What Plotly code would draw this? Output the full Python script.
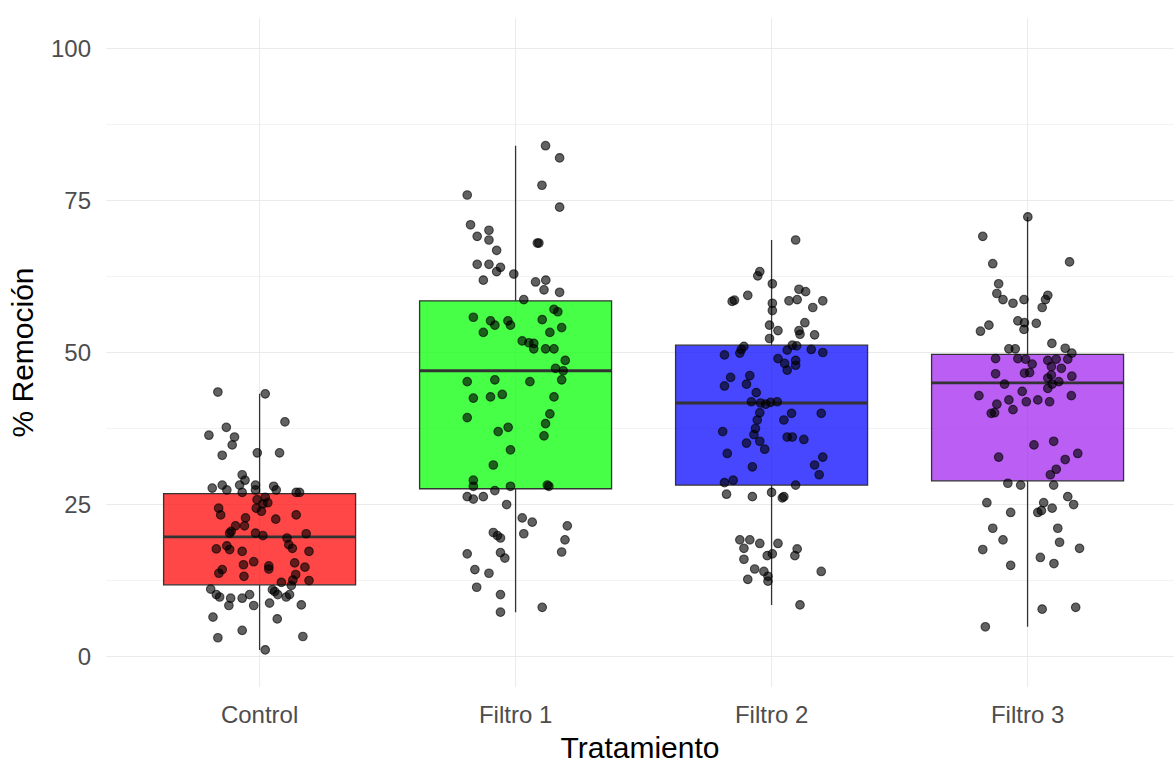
import plotly.graph_objects as go

# ---------------- data ----------------
categories = ["Control", "Filtro 1", "Filtro 2", "Filtro 3"]
box_colors = ["rgba(255,0,0,0.72)", "rgba(0,255,0,0.72)", "rgba(0,0,255,0.72)", "rgba(160,32,240,0.72)"]

q1_vals = [11.8, 27.6, 28.2, 28.9]
median_vals = [19.7, 47.0, 41.7, 45.0]
q3_vals = [26.8, 58.5, 51.2, 49.7]
lower_whisker = [1.1, 7.3, 8.5, 4.9]
upper_whisker = [43.2, 84.0, 68.5, 72.3]

control_y = [43.5, 43.2, 38.6, 37.7, 36.4, 36.1, 34.8, 33.1, 33.5, 33.5, 29.9, 29.0, 28.2, 28.2, 27.7, 27.4,
             28.2, 27.4, 28.0, 27.4, 27.0, 27.0, 27.0, 25.8, 26.2, 25.1, 24.4, 25.3, 24.4, 23.3, 22.8, 22.6,
             23.3, 23.9, 21.5, 20.6, 21.5, 20.3, 20.3, 19.9, 19.5, 20.2, 18.4, 17.8, 17.7, 17.6, 18.2, 17.3,
             17.3, 15.6, 15.1, 14.9, 15.4, 14.7, 14.3, 13.7, 14.4, 13.2, 13.5, 12.5, 12.2, 12.6, 11.1, 10.2,
             9.8, 9.6, 9.6, 10.2, 8.4, 8.4, 11.0, 10.7, 10.2, 9.8, 10.2, 11.7, 8.8, 8.5, 6.5, 6.2, 4.3, 3.1,
             3.3, 1.1]
control_jit = [-0.163, 0.022, 0.099, -0.130, -0.198, -0.098, -0.107, -0.146, -0.009, 0.078, -0.068, -0.057,
               -0.078, -0.146, -0.185, -0.128, -0.016, -0.016, 0.055, 0.065, 0.143, 0.156, -0.068, -0.010,
               0.022, 0.013, -0.013, 0.032, -0.160, -0.152, -0.055, 0.063, 0.143, 0.007, -0.094, -0.111,
               -0.059, -0.117, -0.016, 0.013, 0.107, 0.182, 0.114, 0.128, -0.169, -0.117, -0.128, -0.068,
               0.193, -0.023, -0.063, 0.036, 0.137, 0.177, -0.146, -0.159, 0.036, -0.061, 0.141, 0.193,
               0.085, 0.130, -0.191, -0.169, -0.156, -0.113, -0.068, -0.039, -0.120, -0.023, 0.050, 0.059,
               0.071, 0.104, 0.117, 0.124, 0.039, 0.163, -0.182, 0.069, -0.068, -0.163, 0.169, 0.022]

filtro1_y = [84.0, 82.0, 77.5, 75.9, 73.9, 71.0, 70.1, 69.1, 68.5, 68.0, 68.0, 66.8, 64.5, 64.5, 64.0, 63.3,
             62.9, 61.9, 61.6, 61.9, 60.3, 59.9, 58.7, 55.8, 57.1, 56.7, 55.2, 54.5, 55.2, 54.5, 55.4, 54.1,
             53.3, 53.3, 51.9, 51.6, 51.5, 50.6, 50.6, 50.6, 48.7, 47.4, 47.0, 45.5, 45.2, 45.5, 45.2, 42.5,
             42.7, 43.1, 42.7, 39.3, 39.9, 38.3, 36.3, 37.0, 37.7, 34.0, 31.5, 29.0, 28.0, 28.0, 28.2, 28.0,
             27.3, 26.3, 25.9, 26.3, 25.0, 22.8, 22.1, 21.5, 20.4, 19.9, 19.5, 20.2, 19.2, 17.2, 16.9, 17.1,
             16.2, 14.3, 13.7, 11.4, 10.2, 7.3, 8.1]
filtro1_jit = [0.117, 0.172, 0.103, -0.189, 0.172, -0.176, -0.104, -0.150, -0.104, 0.085, 0.091, -0.074,
               -0.150, -0.104, -0.059, -0.074, -0.007, -0.126, 0.078, 0.118, 0.111, 0.172, 0.032, -0.165,
               0.150, 0.165, -0.098, -0.081, -0.030, -0.020, 0.104, 0.180, -0.126, 0.134, 0.026, 0.052,
               0.071, 0.071, 0.117, 0.150, 0.194, 0.156, 0.186, 0.180, -0.189, -0.081, 0.056, -0.165,
               -0.098, -0.052, 0.150, -0.189, 0.134, 0.117, 0.111, -0.068, -0.029, -0.020, -0.087, -0.165,
               -0.165, -0.020, 0.124, 0.130, -0.081, -0.189, -0.165, -0.126, -0.035, 0.026, 0.065, 0.202,
               -0.087, -0.071, -0.059, 0.032, 0.193, 0.180, -0.189, -0.059, -0.042, -0.159, -0.104, -0.152,
               -0.059, -0.059, 0.104]

filtro2_y = [68.5, 63.3, 62.6, 61.3, 60.4, 60.0, 58.6, 58.4, 59.4, 58.5, 58.7, 58.5, 58.1, 56.9, 57.4, 54.9,
             54.5, 53.6, 53.6, 53.0, 52.9, 52.3, 51.2, 51.1, 51.0, 50.5, 49.6, 49.9, 50.4, 50.5, 50.0, 49.0,
             48.2, 48.7, 47.9, 47.1, 45.9, 46.2, 44.5, 44.8, 43.4, 41.9, 41.7, 41.5, 41.8, 41.9, 40.1, 40.0,
             40.0, 38.9, 38.9, 37.5, 37.0, 36.5, 36.1, 36.1, 35.7, 35.1, 35.4, 34.1, 33.4, 32.8, 31.5, 31.2,
             29.9, 28.6, 29.0, 28.2, 26.7, 26.3, 27.0, 26.1, 26.3, 19.2, 19.2, 17.8, 18.6, 18.6, 17.7, 16.6,
             16.9, 16.6, 16.0, 14.4, 14.0, 12.7, 13.2, 12.4, 14.0, 8.5]
filtro2_jit = [0.094, -0.046, -0.054, 0.003, 0.107, 0.133, -0.145, -0.154, -0.093, 0.068, 0.100, 0.200,
               0.003, 0.003, 0.161, 0.130, -0.008, 0.025, 0.107, 0.111, 0.168, -0.008, 0.081, 0.098,
               -0.108, -0.118, -0.184, -0.124, 0.061, 0.155, 0.200, 0.025, 0.051, 0.094, 0.094, 0.061,
               -0.160, -0.085, -0.184, -0.098, -0.060, -0.079, -0.043, -0.023, -0.004, 0.022, -0.046, 0.078,
               0.194, 0.048, -0.056, -0.063, -0.191, -0.069, 0.061, 0.081, 0.126, -0.098, -0.046, -0.027,
               -0.173, 0.200, 0.168, -0.075, 0.186, -0.184, -0.150, 0.094, -0.176, -0.075, 0.000, 0.042,
               0.048, -0.124, -0.085, -0.108, -0.046, 0.025, 0.100, -0.017, 0.003, 0.091, -0.108, -0.066,
               -0.030, -0.093, -0.014, -0.014, 0.194, 0.111]

filtro3_y = [72.3, 69.1, 64.6, 64.9, 61.3, 59.7, 58.7, 58.1, 58.7, 59.4, 58.7, 57.4, 55.2, 54.9, 54.8, 53.8,
             54.5, 53.5, 51.5, 50.6, 50.6, 50.7, 49.9, 49.0, 49.0, 48.9, 48.1, 48.7, 48.9, 48.9, 47.7, 47.4,
             46.5, 46.6, 46.7, 46.3, 46.1, 45.8, 44.8, 45.2, 44.8, 44.1, 42.9, 43.6, 42.9, 42.2, 41.9, 42.2,
             41.9, 41.5, 40.6, 40.0, 40.1, 34.8, 35.4, 32.8, 33.4, 32.4, 30.8, 29.9, 28.5, 28.2, 28.2, 25.3,
             25.3, 26.3, 25.0, 24.4, 23.7, 24.0, 23.7, 21.1, 21.1, 19.2, 18.8, 17.6, 17.8, 16.3, 15.0, 15.3,
             7.8, 8.1, 4.9]
filtro3_jit = [0.001, -0.175, -0.136, 0.164, -0.113, -0.120, -0.096, -0.057, -0.014, 0.079, 0.070, 0.057,
               -0.038, -0.012, 0.034, -0.014, -0.151, -0.184, 0.095, -0.073, -0.048, 0.147, 0.173, -0.125,
               -0.038, -0.008, 0.018, 0.079, 0.112, 0.157, 0.093, 0.132, -0.125, -0.012, 0.008, 0.093,
               0.173, 0.079, -0.090, 0.122, 0.096, 0.079, -0.190, -0.021, 0.171, -0.073, -0.005, 0.040,
               0.086, -0.120, -0.057, -0.142, -0.129, 0.025, 0.102, -0.113, 0.196, 0.147, 0.112, 0.089,
               -0.077, -0.027, 0.102, -0.159, 0.063, 0.157, 0.180, 0.096, 0.040, 0.054, -0.066, -0.136,
               0.118, -0.096, 0.125, -0.175, 0.203, 0.050, -0.066, 0.103, 0.057, 0.188, -0.165]

points_y = [control_y, filtro1_y, filtro2_y, filtro3_y]
points_jit = [control_jit, filtro1_jit, filtro2_jit, filtro3_jit]

y_ticks = [0, 25, 50, 75, 100]
x_title = "Tratamiento"
y_title = "% Remoción"

# ---------------- figure ----------------
BOX_W = 0.75
FONT = "Liberation Sans, Arial, sans-serif"
fig = go.Figure()

for i, cat in enumerate(categories):
    fig.add_trace(go.Box(
        x=[i], q1=[q1_vals[i]], median=[median_vals[i]], q3=[q3_vals[i]],
        lowerfence=[lower_whisker[i]], upperfence=[upper_whisker[i]],
        width=BOX_W, whiskerwidth=0, boxpoints=False,
        fillcolor=box_colors[i], line=dict(color="#333333", width=1.3),
        name=cat, showlegend=False, hoverinfo="skip",
    ))

for i, cat in enumerate(categories):
    fig.add_trace(go.Scatter(
        x=[i - BOX_W / 2, i + BOX_W / 2], y=[median_vals[i], median_vals[i]],
        mode="lines", line=dict(color="#333333", width=2.8),
        showlegend=False, hoverinfo="skip",
    ))

for i, cat in enumerate(categories):
    fig.add_trace(go.Scatter(
        x=[i + j for j in points_jit[i]], y=points_y[i], mode="markers",
        marker=dict(size=8.6, color="rgba(0,0,0,0.62)", line=dict(color="rgba(0,0,0,0.62)", width=1.1)),
        showlegend=False, name=cat,
    ))

fig.update_layout(
    width=1174, height=767,
    margin=dict(l=106, r=0, t=18, b=80),
    paper_bgcolor="white", plot_bgcolor="white",
    font=dict(family=FONT, color="#4D4D4D"),
    xaxis=dict(
        range=[-0.6, 3.572], tickmode="array", tickvals=list(range(len(categories))), ticktext=categories,
        showgrid=True, gridcolor="#EBEBEB", gridwidth=1, zeroline=False, showline=False, ticks="",
        tickfont=dict(size=24, color="#4D4D4D", family=FONT), ticklabelstandoff=11, automargin=False,
        title=dict(text=x_title, font=dict(size=30, color="#000000", family=FONT), standoff=9),
    ),
    yaxis=dict(
        range=[-5, 105], tickmode="array", tickvals=y_ticks,
        showgrid=True, gridcolor="#EBEBEB", gridwidth=1, zeroline=False, showline=False, ticks="",
        minor=dict(tickmode="array", tickvals=[12.5, 37.5, 62.5, 87.5], showgrid=True, gridcolor="#F3F3F3", gridwidth=1),
        tickfont=dict(size=24, color="#4D4D4D", family=FONT), ticklabelstandoff=14, automargin=False,
        title=dict(text=y_title, font=dict(size=30, color="#000000", family=FONT), standoff=8),
    ),
)

fig.write_html("out.html")
